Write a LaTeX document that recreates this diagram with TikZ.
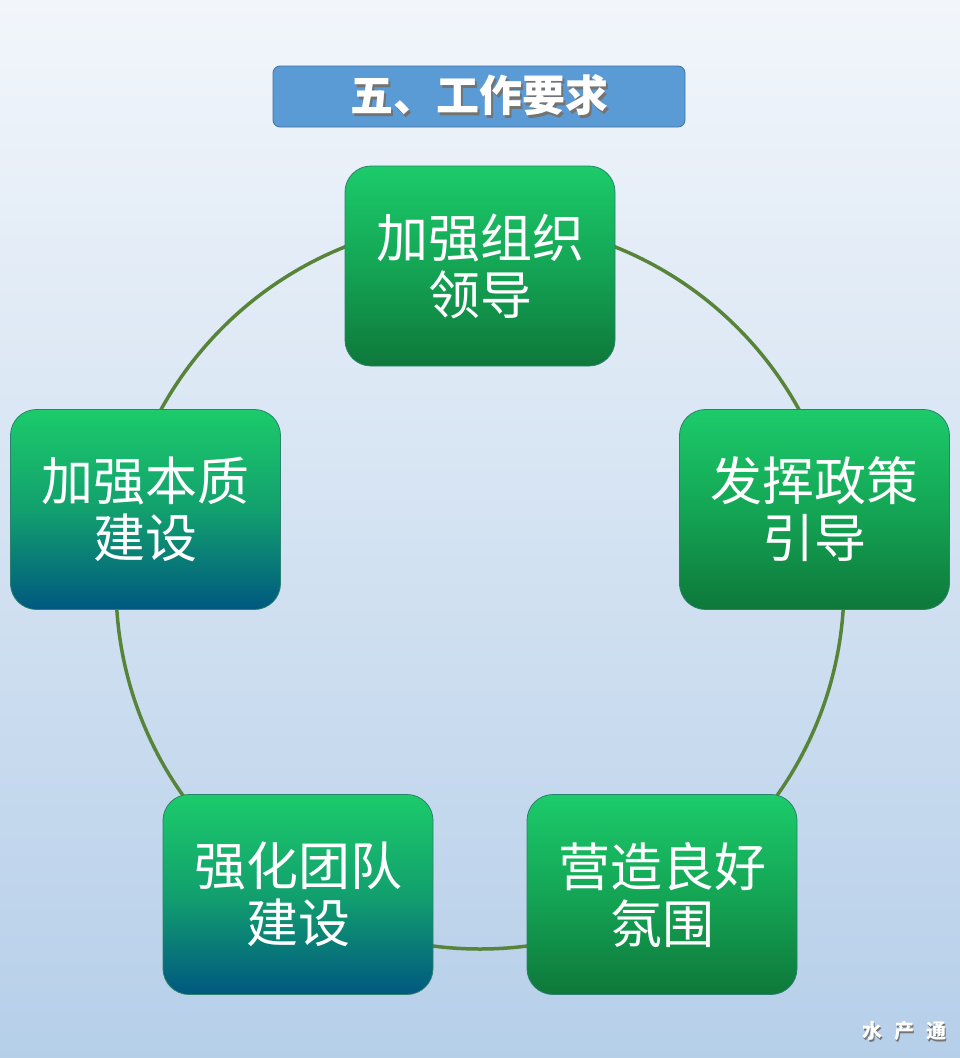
\documentclass[tikz,border=0pt]{standalone}
\usepackage{fontspec}
\newfontfamily\cjk{Noto Sans CJK SC}
\definecolor{bgtop}{RGB}{242,246,251}
\definecolor{bgbot}{RGB}{182,207,233}
\definecolor{titlefill}{RGB}{91,155,213}
\definecolor{titledraw}{RGB}{65,113,160}
\definecolor{ring}{RGB}{88,132,58}
\definecolor{gtop}{RGB}{28,203,106}
\definecolor{gbot}{RGB}{14,120,58}
\definecolor{gmid}{RGB}{20,165,85}
\definecolor{tmid}{RGB}{18,160,110}
\definecolor{tbot}{RGB}{0,88,128}
\definecolor{boxdraw}{RGB}{40,130,110}
\newcommand{\shadowed}[2]{\rlap{\raisebox{-#1}{\kern#1\textcolor{black!55}{#2}}}#2}
\begin{document}
\begin{tikzpicture}[x=1pt,y=-1pt,
  box/.style={rounded corners=26pt, minimum width=270pt, minimum height=200pt,
    draw=boxdraw, line width=0.8pt, text=white, align=center, inner sep=0pt,
    font=\cjk\fontsize{52}{57}\selectfont},
  gbox/.style={box, top color=gtop, bottom color=gbot, middle color=gmid},
  tbox/.style={box, top color=gtop, bottom color=tbot, middle color=tmid},
  wm/.style={font=\cjk\bfseries\fontsize{20}{20}\selectfont, inner sep=0pt, text=white}]
\shade[top color=bgtop, bottom color=bgbot] (0,0) rectangle (960,1058);
\useasboundingbox (0,0) rectangle (960,1058);
% title
\node[draw=titledraw, fill=titlefill, rounded corners=7pt, minimum width=412pt,
  minimum height=61pt, line width=0.8pt, text=white,
  font=\cjk\bfseries\fontsize{43}{43}\selectfont] (title) at (479,96.5) {\shadowed{2.5pt}{五、工作要求}};
% ring
\draw[ring, line width=3.5pt] (480,585) circle (364);
% boxes
\node[gbox] (lead) at (480,266) {加强组织\\领导};
\node[gbox] (policy) at (814.5,509.5) {发挥政策\\引导};
\node[gbox] (atmos) at (662,894.5) {营造良好\\氛围};
\node[tbox] (team) at (298,894.5) {强化团队\\建设};
\node[tbox] (essence) at (145.5,509.5) {加强本质\\建设};
% watermark
\node[wm] (wm) at (904,1032) {\shadowed{1.2pt}{水}\hspace{12pt}\shadowed{1.2pt}{产}\hspace{12pt}\shadowed{1.2pt}{通}};
\end{tikzpicture}
\end{document}
